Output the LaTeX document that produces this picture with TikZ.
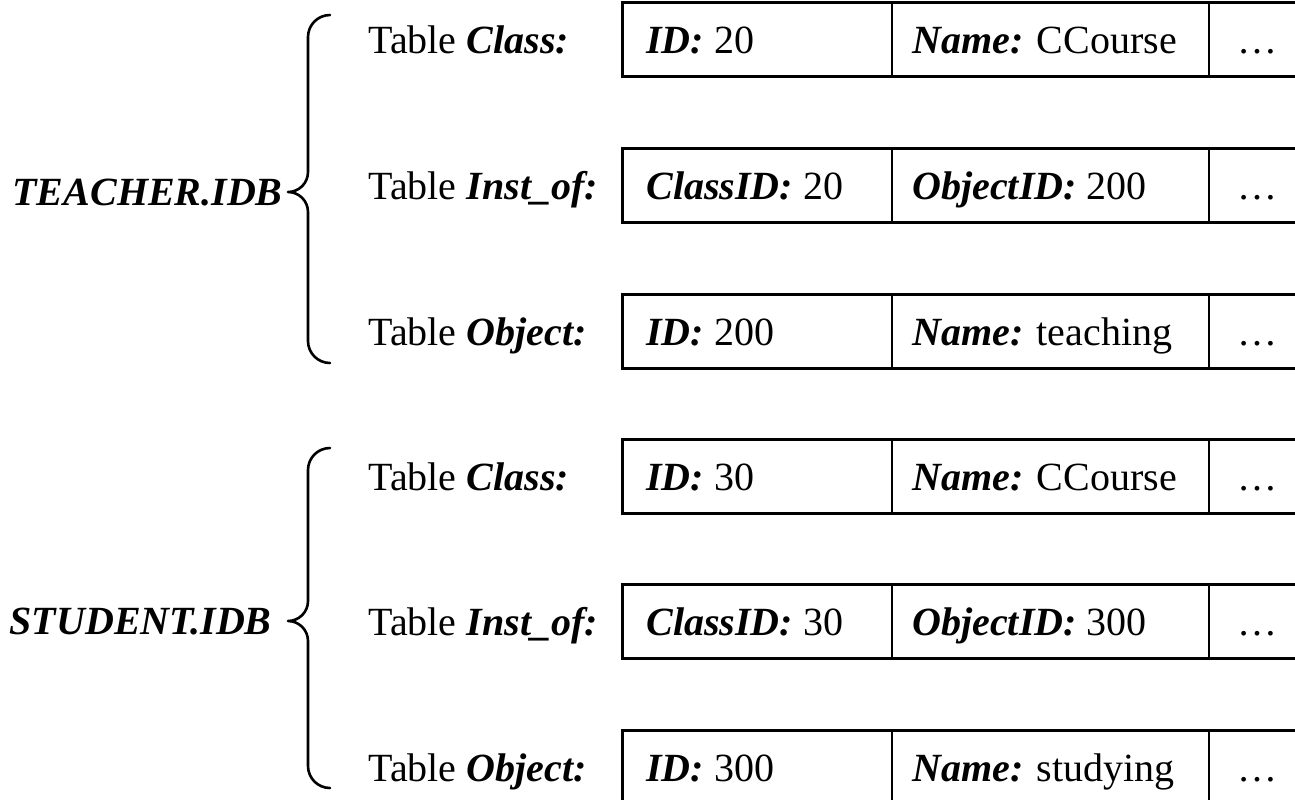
\documentclass[tikz,border=0pt]{standalone}
\usepackage{fontspec}
\setmainfont{Liberation Serif}
\newcommand{\bi}[1]{\textbf{\textit{#1}}}
\tikzset{
  txt/.style={anchor=base west, inner sep=0pt, font=\fontsize{20}{24}\selectfont},
  grp/.style={anchor=base east, inner sep=0pt, font=\fontsize{20}{24}\selectfont\bfseries\itshape},
  frame/.style={draw, line width=1.5pt},
  divider/.style={line width=1.1pt},
  bracket/.style={line width=1.3pt, line cap=round, line join=round},
}
\begin{document}
\begin{tikzpicture}[x=0.5pt, y=-0.5pt]
  \useasboundingbox (0,0) rectangle (1295,799);
  \clip (0,0) rectangle (1295,799);

  % one record row per table: top edge / table name / first field / second field
  \foreach \i/\top/\tab/\fa/\fb in {
      1/2/{Class:}/{\bi{ID:} 20}/{\bi{Name:} CCourse},
      2/148/{Inst\_of:}/{\bi{ClassID:} 20}/{\bi{ObjectID:} 200},
      3/294/{Object:}/{\bi{ID:} 200}/{\bi{Name:} teaching},
      4/439/{Class:}/{\bi{ID:} 30}/{\bi{Name:} CCourse},
      5/584/{Inst\_of:}/{\bi{ClassID:} 30}/{\bi{ObjectID:} 300},
      6/730/{Object:}/{\bi{ID:} 300}/{\bi{Name:} studying}} {
    \draw[frame] (622,\top) rectangle (1320,\top+74);
    \draw[divider] (892,\top) -- (892,\top+74);
    \draw[divider] (1209,\top) -- (1209,\top+74);
    \node[txt] (tab\i) at (368,\top+51) {Table \bi{\tab}};
    \node[txt] (fa\i)  at (646,\top+51) {\fa};
    \node[txt] (fb\i)  at (912,\top+51) {\fb};
    \node[txt] (more\i) at (1237,\top+51) {\dots};
  }

  % database files
  \node[grp] (teacher) at (283,205) {TEACHER.IDB};
  \node[grp] (student) at (272,634) {STUDENT.IDB};

  % curly brackets grouping the tables of each file
  % (y grows downwards here, so an angle of 90 points down)
  \draw[bracket] (330,15) arc[start angle=270, end angle=180, radius=22]
     -- (308,172) arc[start angle=0, end angle=90, radius=20]
     arc[start angle=270, end angle=360, radius=20]
     -- (308,341) arc[start angle=180, end angle=90, radius=22];
  \draw[bracket] (330,448) arc[start angle=270, end angle=180, radius=22]
     -- (308,601) arc[start angle=0, end angle=90, radius=20]
     arc[start angle=270, end angle=360, radius=20]
     -- (308,766) arc[start angle=180, end angle=90, radius=22];
\end{tikzpicture}
\end{document}
